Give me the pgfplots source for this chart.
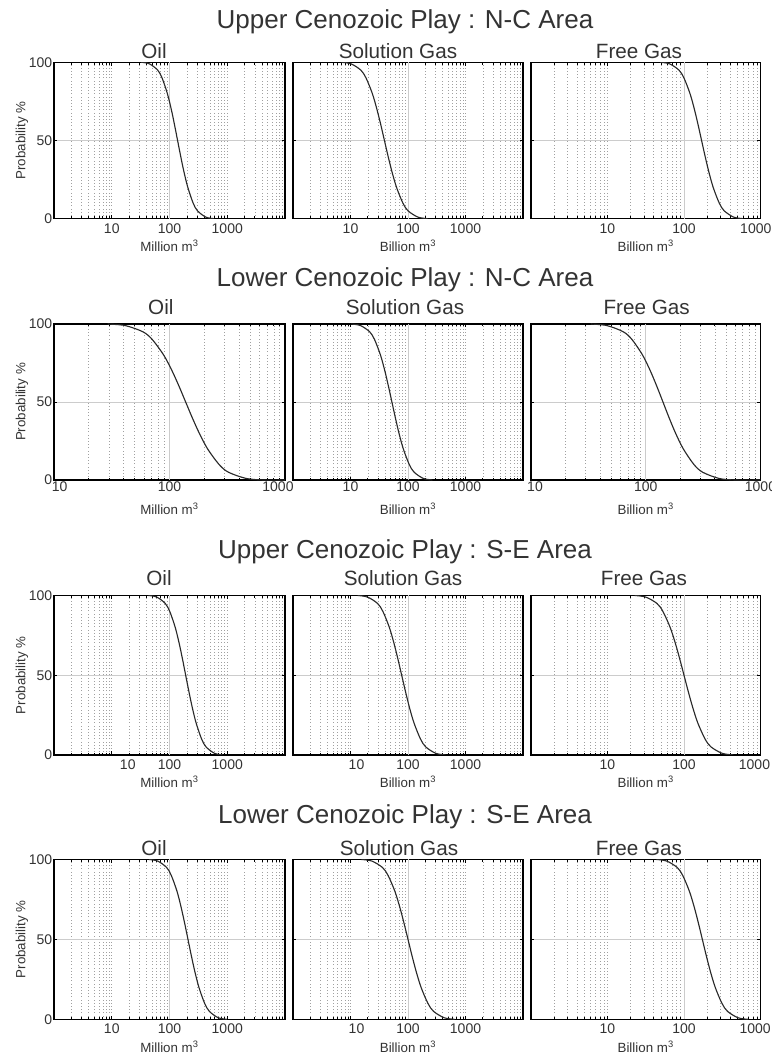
\documentclass[border=0pt]{standalone}
\usepackage{pgfplots}
\pgfplotsset{compat=1.18}
\usepackage{fontspec}
\setmainfont{Liberation Sans}

\definecolor{ink}{HTML}{333333}
\definecolor{gridc}{HTML}{A0A0A0}
\definecolor{curvec}{HTML}{2A2A2A}

\newcommand\supf{\fontsize{19.5}{22}\selectfont}
\newcommand\subf{\fontsize{15.5}{18}\selectfont}

\pgfplotsset{
  probaxis/.style={
    scale only axis, ymin=0, ymax=100,
    axis line style={black, line width=1.1pt},
    ytick={0,50,100}, yticklabels={},
    tick align=inside, major tick length=2.6pt, minor tick length=1.8pt,
    tick style={black, line width=0.5pt},
    xminorgrids=true, ymajorgrids=true,
    minor grid style={gridc, dotted, line width=0.45pt},
    major grid style={black!20, line width=0.5pt},
    ticklabel style={font=\fontsize{10.5}{12}\selectfont, text=ink},
    every axis label/.append style={font=\fontsize{10}{12}\selectfont, text=ink},
    xlabel style={at={(axis description cs:0.5,0)}, anchor=base, yshift=-24.5pt},
    yticklabel style={inner xsep=1.2pt},
  },
  leftaxis/.style={
    yticklabels={0,50,100}, ylabel={Probability \%},
    ylabel style={at={(axis description cs:-0.139,0.5)}, anchor=center},
  },
  exceed/.style={curvec, line width=0.85pt, smooth, no markers},
}
\tikzset{gridhundred/.style={black!20, line width=0.5pt}}
% minor grid positions for the three x ranges
\def\minorA{2,3,4,5,6,7,8,9,10,20,30,40,50,60,70,80,90,200,300,400,500,600,700,800,900,1000,2000,3000,4000,5000,6000,7000,8000,9000}
\def\minorB{20,30,40,50,60,70,80,90,200,300,400,500,600,700,800,900}
\def\minorC{2,3,4,5,6,7,8,9,10,20,30,40,50,60,70,80,90,200,300,400,500,600,700,800,900}

\begin{document}
\begin{tikzpicture}
\useasboundingbox (0,0) rectangle (578.25pt,-791.25pt);

% ---------------- Upper Cenozoic Play : N-C Area ----------------
\node[anchor=base, font=\supf, text=ink] at (303.75pt,-21.2pt) {Upper Cenozoic Play : N-C Area};
\node[anchor=base, font=\subf, text=ink] at (115.5pt,-43.7pt) {Oil};
\node[anchor=base, font=\subf, text=ink] at (298.5pt,-43.7pt) {Solution Gas};
\node[anchor=base, font=\subf, text=ink] at (479.25pt,-43.7pt) {Free Gas};

\begin{axis}[xmode=log, probaxis, leftaxis, at={(40.5pt,-46.7pt)}, anchor=north west,
  width=173.25pt, height=117.3pt, xlabel={Million m\textsuperscript{3}},
  xmin=1, xmax=10000, xtick={10,100,1000}, xticklabels={10,100,1000}, minor xtick/.expand once={\minorA}]
\draw[gridhundred] (axis cs:100,0) -- (axis cs:100,100);
\addplot[exceed] coordinates {(32.4,100) (44.9,99) (62.4,95) (74.3,90) (91.8,80) (107.2,70) (122.2,60) (138.0,50) (156.0,40) (177.8,30) (207.5,20) (256.4,10) (305.5,5) (424.6,1) (588.8,0)};
\end{axis}
\begin{axis}[xmode=log, probaxis, at={(219.75pt,-46.7pt)}, anchor=north west,
  width=172.5pt, height=117.3pt, xlabel={Billion m\textsuperscript{3}},
  xmin=1, xmax=10000, xtick={10,100,1000}, xticklabels={10,100,1000}, minor xtick/.expand once={\minorA}]
\draw[gridhundred] (axis cs:100,0) -- (axis cs:100,100);
\addplot[exceed] coordinates {(6.92,100) (10.20,99) (15.10,95) (18.60,90) (23.97,80) (28.77,70) (33.65,60) (38.90,50) (44.98,40) (52.60,30) (63.20,20) (81.38,10) (100.2,5) (148.4,1) (218.8,0)};
\end{axis}
\begin{axis}[xmode=log, probaxis, at={(398.25pt,-46.7pt)}, anchor=north west,
  width=172.1pt, height=117.3pt, xlabel={Billion m\textsuperscript{3}},
  xmin=1, xmax=1000, xtick={10,100,1000}, xticklabels={10,100,1000\kern7pt}, minor xtick/.expand once={\minorC}]
\draw[gridhundred] (axis cs:100,0) -- (axis cs:100,100);
\addplot[exceed] coordinates {(48.98,100) (64.76,99) (85.9,95) (99.8,90) (119.8,80) (136.7,70) (152.9,60) (169.8,50) (188.6,40) (211.0,30) (240.8,20) (288.9,10) (335.8,5) (445.4,1) (588.8,0)};
\end{axis}

% ---------------- Lower Cenozoic Play : N-C Area ----------------
\node[anchor=base, font=\supf, text=ink] at (303.75pt,-215pt) {Lower Cenozoic Play : N-C Area};
\node[anchor=base, font=\subf, text=ink] at (120.6pt,-236.25pt) {Oil};
\node[anchor=base, font=\subf, text=ink] at (303.75pt,-236.25pt) {Solution Gas};
\node[anchor=base, font=\subf, text=ink] at (485pt,-236.25pt) {Free Gas};

\begin{axis}[xmode=log, probaxis, leftaxis, at={(40.5pt,-243pt)}, anchor=north west,
  width=173.25pt, height=117pt, xlabel={Million m\textsuperscript{3}},
  xticklabel style={yshift=2pt}, xlabel style={yshift=-1pt},
  xmin=10, xmax=1000, xtick={10,100,1000}, xticklabels={\kern8.5pt10,100,1000\kern10.5pt}, minor xtick/.expand once={\minorB}]
\draw[gridhundred] (axis cs:100,0) -- (axis cs:100,100);
\addplot[exceed] coordinates {(29.17,100) (41.37,99) (58.88,95) (71.03,90) (89.22,80) (105.2,70) (121.1,60) (138.0,50) (157.3,40) (181.1,30) (213.5,20) (268.3,10) (323.6,5) (460.7,1) (653.1,0) (1000,0)};
\end{axis}
\begin{axis}[xmode=log, probaxis, at={(219.75pt,-243pt)}, anchor=north west,
  width=172.5pt, height=117pt, xlabel={Billion m\textsuperscript{3}},
  xticklabel style={yshift=2pt}, xlabel style={yshift=-1pt},
  xmin=1, xmax=10000, xtick={10,100,1000}, xticklabels={10,100,1000}, minor xtick/.expand once={\minorA}]
\draw[gridhundred] (axis cs:100,0) -- (axis cs:100,100);
\addplot[exceed] coordinates {(10.35,100) (14.92,99) (21.55,95) (26.22,90) (33.27,80) (39.53,70) (45.76,60) (52.48,50) (60.19,40) (69.68,30) (82.78,20) (105.0,10) (127.8,5) (184.7,1) (266.1,0)};
\end{axis}
\begin{axis}[xmode=log, probaxis, at={(398.25pt,-243pt)}, anchor=north west,
  width=172.1pt, height=117pt, xlabel={Billion m\textsuperscript{3}},
  xticklabel style={yshift=2pt}, xlabel style={yshift=-1pt},
  xmin=10, xmax=1000, xtick={10,100,1000}, xticklabels={\kern6pt10,100,1000}, minor xtick/.expand once={\minorB}]
\draw[gridhundred] (axis cs:100,0) -- (axis cs:100,100);
\addplot[exceed] coordinates {(33.11,100) (45.86,99) (63.75,95) (76.0,90) (94.0,80) (109.6,70) (125.0,60) (141.3,50) (159.6,40) (182.0,30) (212.3,20) (262.6,10) (313.0,5) (435.0,1) (602.6,0) (1000,0)};
\end{axis}

% ---------------- Upper Cenozoic Play : S-E Area ----------------
\node[anchor=base, font=\supf, text=ink] at (303.75pt,-418.7pt) {Upper Cenozoic Play : S-E Area};
\node[anchor=base, font=\subf, text=ink] at (119.25pt,-438.75pt) {Oil};
\node[anchor=base, font=\subf, text=ink] at (302.25pt,-438.75pt) {Solution Gas};
\node[anchor=base, font=\subf, text=ink] at (483pt,-438.75pt) {Free Gas};

\begin{axis}[xmode=log, probaxis, leftaxis, at={(40.5pt,-446.6pt)}, anchor=north west,
  width=173.25pt, height=119.6pt, xlabel={Million m\textsuperscript{3}},
  xmin=1, xmax=10000, xtick={10,100,1000}, xticklabels={\kern24pt10,100,1000}, minor xtick/.expand once={\minorA}]
\draw[gridhundred] (axis cs:100,0) -- (axis cs:100,100);
\addplot[exceed] coordinates {(43.15,100) (60.25,99) (84.4,95) (101.0,90) (125.6,80) (147.0,70) (168.1,60) (190.5,50) (216.0,40) (247.0,30) (289.1,20) (359.4,10) (430.2,5) (602.7,1) (841.4,0)};
\end{axis}
\begin{axis}[xmode=log, probaxis, at={(219.75pt,-446.6pt)}, anchor=north west,
  width=172.5pt, height=119.6pt, xlabel={Billion m\textsuperscript{3}},
  xmin=1, xmax=10000, xtick={10,100,1000}, xticklabels={\kern9pt10,100,1000}, minor xtick/.expand once={\minorA}]
\draw[gridhundred] (axis cs:100,0) -- (axis cs:100,100);
\addplot[exceed] coordinates {(13.34,100) (19.81,99) (29.54,95) (36.57,90) (47.35,80) (57.06,70) (66.90,60) (77.62,50) (90.08,40) (105.5,30) (127.3,20) (164.8,10) (203.9,5) (304.2,1) (451.9,0)};
\end{axis}
\begin{axis}[xmode=log, probaxis, at={(398.25pt,-446.6pt)}, anchor=north west,
  width=172.1pt, height=119.6pt, xlabel={Billion m\textsuperscript{3}},
  xmin=1, xmax=1000, xtick={10,100,1000}, xticklabels={10,100,1000\kern9pt}, minor xtick/.expand once={\minorC}]
\draw[gridhundred] (axis cs:100,0) -- (axis cs:100,100);
\addplot[exceed] coordinates {(22.65,100) (31.62,99) (44.30,95) (53.03,90) (65.92,80) (77.14,70) (88.23,60) (100.0,50) (113.4,40) (129.7,30) (151.7,20) (188.6,10) (225.8,5) (316.3,1) (441.6,0)};
\end{axis}

% ---------------- Lower Cenozoic Play : S-E Area ----------------
\node[anchor=base, font=\supf, text=ink] at (303.75pt,-617.5pt) {Lower Cenozoic Play : S-E Area};
\node[anchor=base, font=\subf, text=ink] at (115.5pt,-641.25pt) {Oil};
\node[anchor=base, font=\subf, text=ink] at (299.25pt,-641.25pt) {Solution Gas};
\node[anchor=base, font=\subf, text=ink] at (479.25pt,-641.25pt) {Free Gas};

\begin{axis}[xmode=log, probaxis, leftaxis, at={(40.5pt,-644.6pt)}, anchor=north west,
  width=173.25pt, height=119.9pt, xlabel={Million m\textsuperscript{3}},
  xmin=1, xmax=10000, xtick={10,100,1000}, xticklabels={10,100,1000}, minor xtick/.expand once={\minorA}]
\draw[gridhundred] (axis cs:100,0) -- (axis cs:100,100);
\addplot[exceed] coordinates {(44.16,100) (62.61,99) (89.1,95) (107.5,90) (135.1,80) (159.2,70) (183.3,60) (208.9,50) (238.2,40) (274.1,30) (323.3,20) (406.0,10) (489.8,5) (697.0,1) (988.5,0)};
\end{axis}
\begin{axis}[xmode=log, probaxis, at={(219.75pt,-644.6pt)}, anchor=north west,
  width=172.5pt, height=119.9pt, xlabel={Billion m\textsuperscript{3}},
  xmin=1, xmax=10000, xtick={10,100,1000}, xticklabels={\kern9pt10,100,1000}, minor xtick/.expand once={\minorA}]
\draw[gridhundred] (axis cs:100,0) -- (axis cs:100,100);
\addplot[exceed] coordinates {(15.49,100) (23.55,99) (35.96,95) (45.08,90) (59.26,80) (72.19,70) (85.44,60) (100.0,50) (117.0,40) (138.5,30) (168.8,20) (221.9,10) (278.2,5) (424.6,1) (645.7,0)};
\end{axis}
\begin{axis}[xmode=log, probaxis, at={(398.25pt,-644.6pt)}, anchor=north west,
  width=172.1pt, height=119.9pt, xlabel={Billion m\textsuperscript{3}},
  xmin=1, xmax=1000, xtick={10,100,1000}, xticklabels={10,100,1000\kern8pt}, minor xtick/.expand once={\minorC}]
\draw[gridhundred] (axis cs:100,0) -- (axis cs:100,100);
\addplot[exceed] coordinates {(43.65,100) (59.57,99) (81.47,95) (96.3,90) (117.9,80) (136.5,70) (154.7,60) (173.8,50) (195.3,40) (221.2,30) (256.1,20) (313.6,10) (370.7,5) (507.0,1) (691.8,0)};
\end{axis}

\end{tikzpicture}
\end{document}
